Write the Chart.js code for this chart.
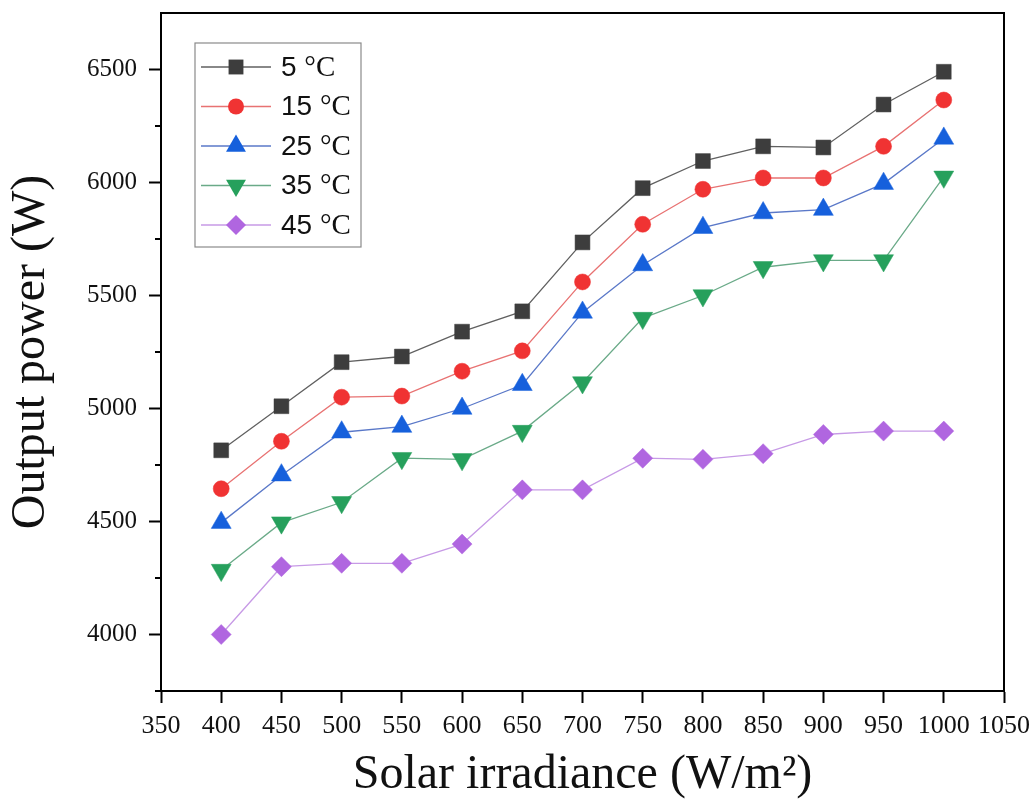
<!DOCTYPE html>
<html>
<head>
<meta charset="utf-8">
<script src="https://cdn.jsdelivr.net/npm/chart.js@4/dist/chart.umd.min.js"></script>
<style>
  html, body { margin: 0; padding: 0; background: #fff; }
  #wrap { width: 1035px; height: 809px; }
</style>
</head>
<body>
<div id="wrap"><canvas id="powerChart" width="1035" height="809"></canvas></div>
<script>
// irradiance (W/m2)
const irradiance = [400, 450, 500, 550, 600, 650, 700, 750, 800, 850, 900, 950, 1000];

// output power (W) per ambient temperature
const power5 = [4815, 5010, 5205, 5230, 5340, 5430, 5735, 5975, 6095, 6160, 6155, 6345, 6490];
const power15 = [4645, 4855, 5050, 5055, 5165, 5255, 5560, 5815, 5970, 6020, 6020, 6160, 6365];
const power25 = [4495, 4705, 4895, 4920, 5000, 5105, 5425, 5635, 5800, 5865, 5880, 5995, 6195];
const power35 = [4285, 4495, 4585, 4780, 4775, 4900, 5115, 5400, 5500, 5625, 5655, 5655, 6025];
const power45 = [4000, 4300, 4315, 4315, 4400, 4640, 4640, 4780, 4775, 4800, 4885, 4900, 4900];

const seriesLabels = ['5', '15', '25', '35', '45'];

const yTicks = [4000, 4500, 5000, 5500, 6000, 6500];
const yMinorTicks = [3750, 4250, 4750, 5250, 5750, 6250];

const serifFont = "'Liberation Serif', 'Times New Roman', serif";

function toPoints(values) {
    return values.map((v, i) => ({ x: irradiance[i], y: v }));
}

function makeDataset(label, values, marker, line, style, radius, rotation) {
    return {
        label: label,
        data: toPoints(values),
        borderColor: line,
        borderWidth: 1.3,
        backgroundColor: marker,
        pointBackgroundColor: marker,
        pointBorderColor: marker,
        pointBorderWidth: 0.5,
        pointStyle: style,
        pointRadius: radius,
        pointHoverRadius: radius,
        pointRotation: rotation,
        tension: 0
    };
}

const datasets = [
    makeDataset(seriesLabels[0], power5, '#3d3d3d', '#606060', 'rect', 10.5, 0),
    makeDataset(seriesLabels[1], power15, '#f03333', '#e87272', 'circle', 8, 0),
    makeDataset(seriesLabels[2], power25, '#1660dc', '#5a78c8', 'triangle', 11.5, 0),
    makeDataset(seriesLabels[3], power35, '#26a05c', '#6aaa88', 'triangle', 11.5, 180),
    makeDataset(seriesLabels[4], power45, '#b066e0', '#c79ae6', 'rectRot', 10, 0)
];

// frame, minor ticks and the boxed legend inside the plot
const framePlugin = {
    id: 'frame',
    afterDraw(chart) {
        const ctx = chart.ctx;
        const area = chart.chartArea;
        const yScale = chart.scales.y;

        ctx.save();
        ctx.strokeStyle = '#000';
        ctx.lineWidth = 2;
        ctx.strokeRect(area.left, area.top, area.right - area.left, area.bottom - area.top);

        // minor ticks on the y axis
        yMinorTicks.forEach(v => {
            const py = yScale.getPixelForValue(v);
            ctx.beginPath();
            ctx.moveTo(area.left - 6, py);
            ctx.lineTo(area.left, py);
            ctx.stroke();
        });

        // legend
        const boxX = area.left + 34;
        const boxY = area.top + 30;
        const boxW = 166;
        const boxH = 204;
        ctx.fillStyle = '#fff';
        ctx.fillRect(boxX, boxY, boxW, boxH);
        ctx.strokeStyle = '#8a8a8a';
        ctx.lineWidth = 1.2;
        ctx.strokeRect(boxX, boxY, boxW, boxH);

        chart.data.datasets.forEach((ds, i) => {
            const cy = boxY + 24 + i * 39.5;
            ctx.strokeStyle = ds.borderColor;
            ctx.lineWidth = 1.3;
            ctx.beginPath();
            ctx.moveTo(boxX + 6, cy);
            ctx.lineTo(boxX + 76, cy);
            ctx.stroke();

            ctx.fillStyle = ds.pointBackgroundColor;
            ctx.strokeStyle = ds.pointBorderColor;
            ctx.lineWidth = 0.5;
            Chart.helpers.drawPoint(ctx, {
                pointStyle: ds.pointStyle,
                radius: ds.pointRadius,
                rotation: ds.pointRotation
            }, boxX + 41, cy);

            ctx.fillStyle = '#111';
            ctx.textBaseline = 'middle';
            ctx.textAlign = 'left';
            ctx.font = "28px 'Liberation Sans', Arial, sans-serif";
            ctx.fillText(ds.label, boxX + 86, cy + 1);
            const numW = ctx.measureText(ds.label + ' ').width;
            ctx.font = '29px ' + serifFont;
            ctx.fillText('°C', boxX + 86 + numW, cy + 1);
        });
        ctx.restore();
    }
};

const ctx = document.getElementById('powerChart').getContext('2d');
const powerChart = new Chart(ctx, {
    type: 'line',
    data: { datasets: datasets },
    options: {
        responsive: false,
        animation: false,
        events: [],
        layout: {
            padding: { top: 13, right: 31, left: 0, bottom: 0 }
        },
        plugins: {
            legend: { display: false },
            tooltip: { enabled: false }
        },
        scales: {
            x: {
                type: 'linear',
                min: 350,
                max: 1050,
                afterFit: scale => {
                    scale.height = 118;
                    scale.paddingLeft = 0;
                    scale.paddingRight = 0;
                },
                ticks: {
                    stepSize: 50,
                    color: '#111',
                    padding: 8,
                    maxRotation: 0,
                    autoSkip: false,
                    font: { family: serifFont, size: 26 },
                    callback: v => String(v)
                },
                grid: {
                    drawOnChartArea: false,
                    drawTicks: true,
                    tickLength: 12,
                    tickWidth: 2,
                    tickColor: '#000'
                },
                border: { display: true, color: '#000', width: 2 },
                title: {
                    display: true,
                    text: 'Solar irradiance (W/m²)',
                    color: '#111',
                    padding: { top: 0, bottom: 5 },
                    font: { family: serifFont, size: 48 }
                }
            },
            y: {
                type: 'linear',
                min: 3750,
                max: 6750,
                afterFit: scale => {
                    scale.width = 161;
                    scale.paddingTop = 0;
                    scale.paddingBottom = 0;
                },
                afterBuildTicks: scale => {
                    scale.ticks = yTicks.map(v => ({ value: v }));
                },
                ticks: {
                    color: '#111',
                    padding: 12,
                    font: { family: serifFont, size: 25 },
                    callback: v => String(v)
                },
                grid: {
                    drawOnChartArea: false,
                    drawTicks: true,
                    tickLength: 12,
                    tickWidth: 2,
                    tickColor: '#000'
                },
                border: { display: true, color: '#000', width: 2 },
                title: {
                    display: true,
                    text: 'Output power (W)',
                    color: '#111',
                    padding: { top: 3, bottom: 0 },
                    font: { family: serifFont, size: 48 }
                }
            }
        }
    },
    plugins: [framePlugin]
});
</script>
</body>
</html>
